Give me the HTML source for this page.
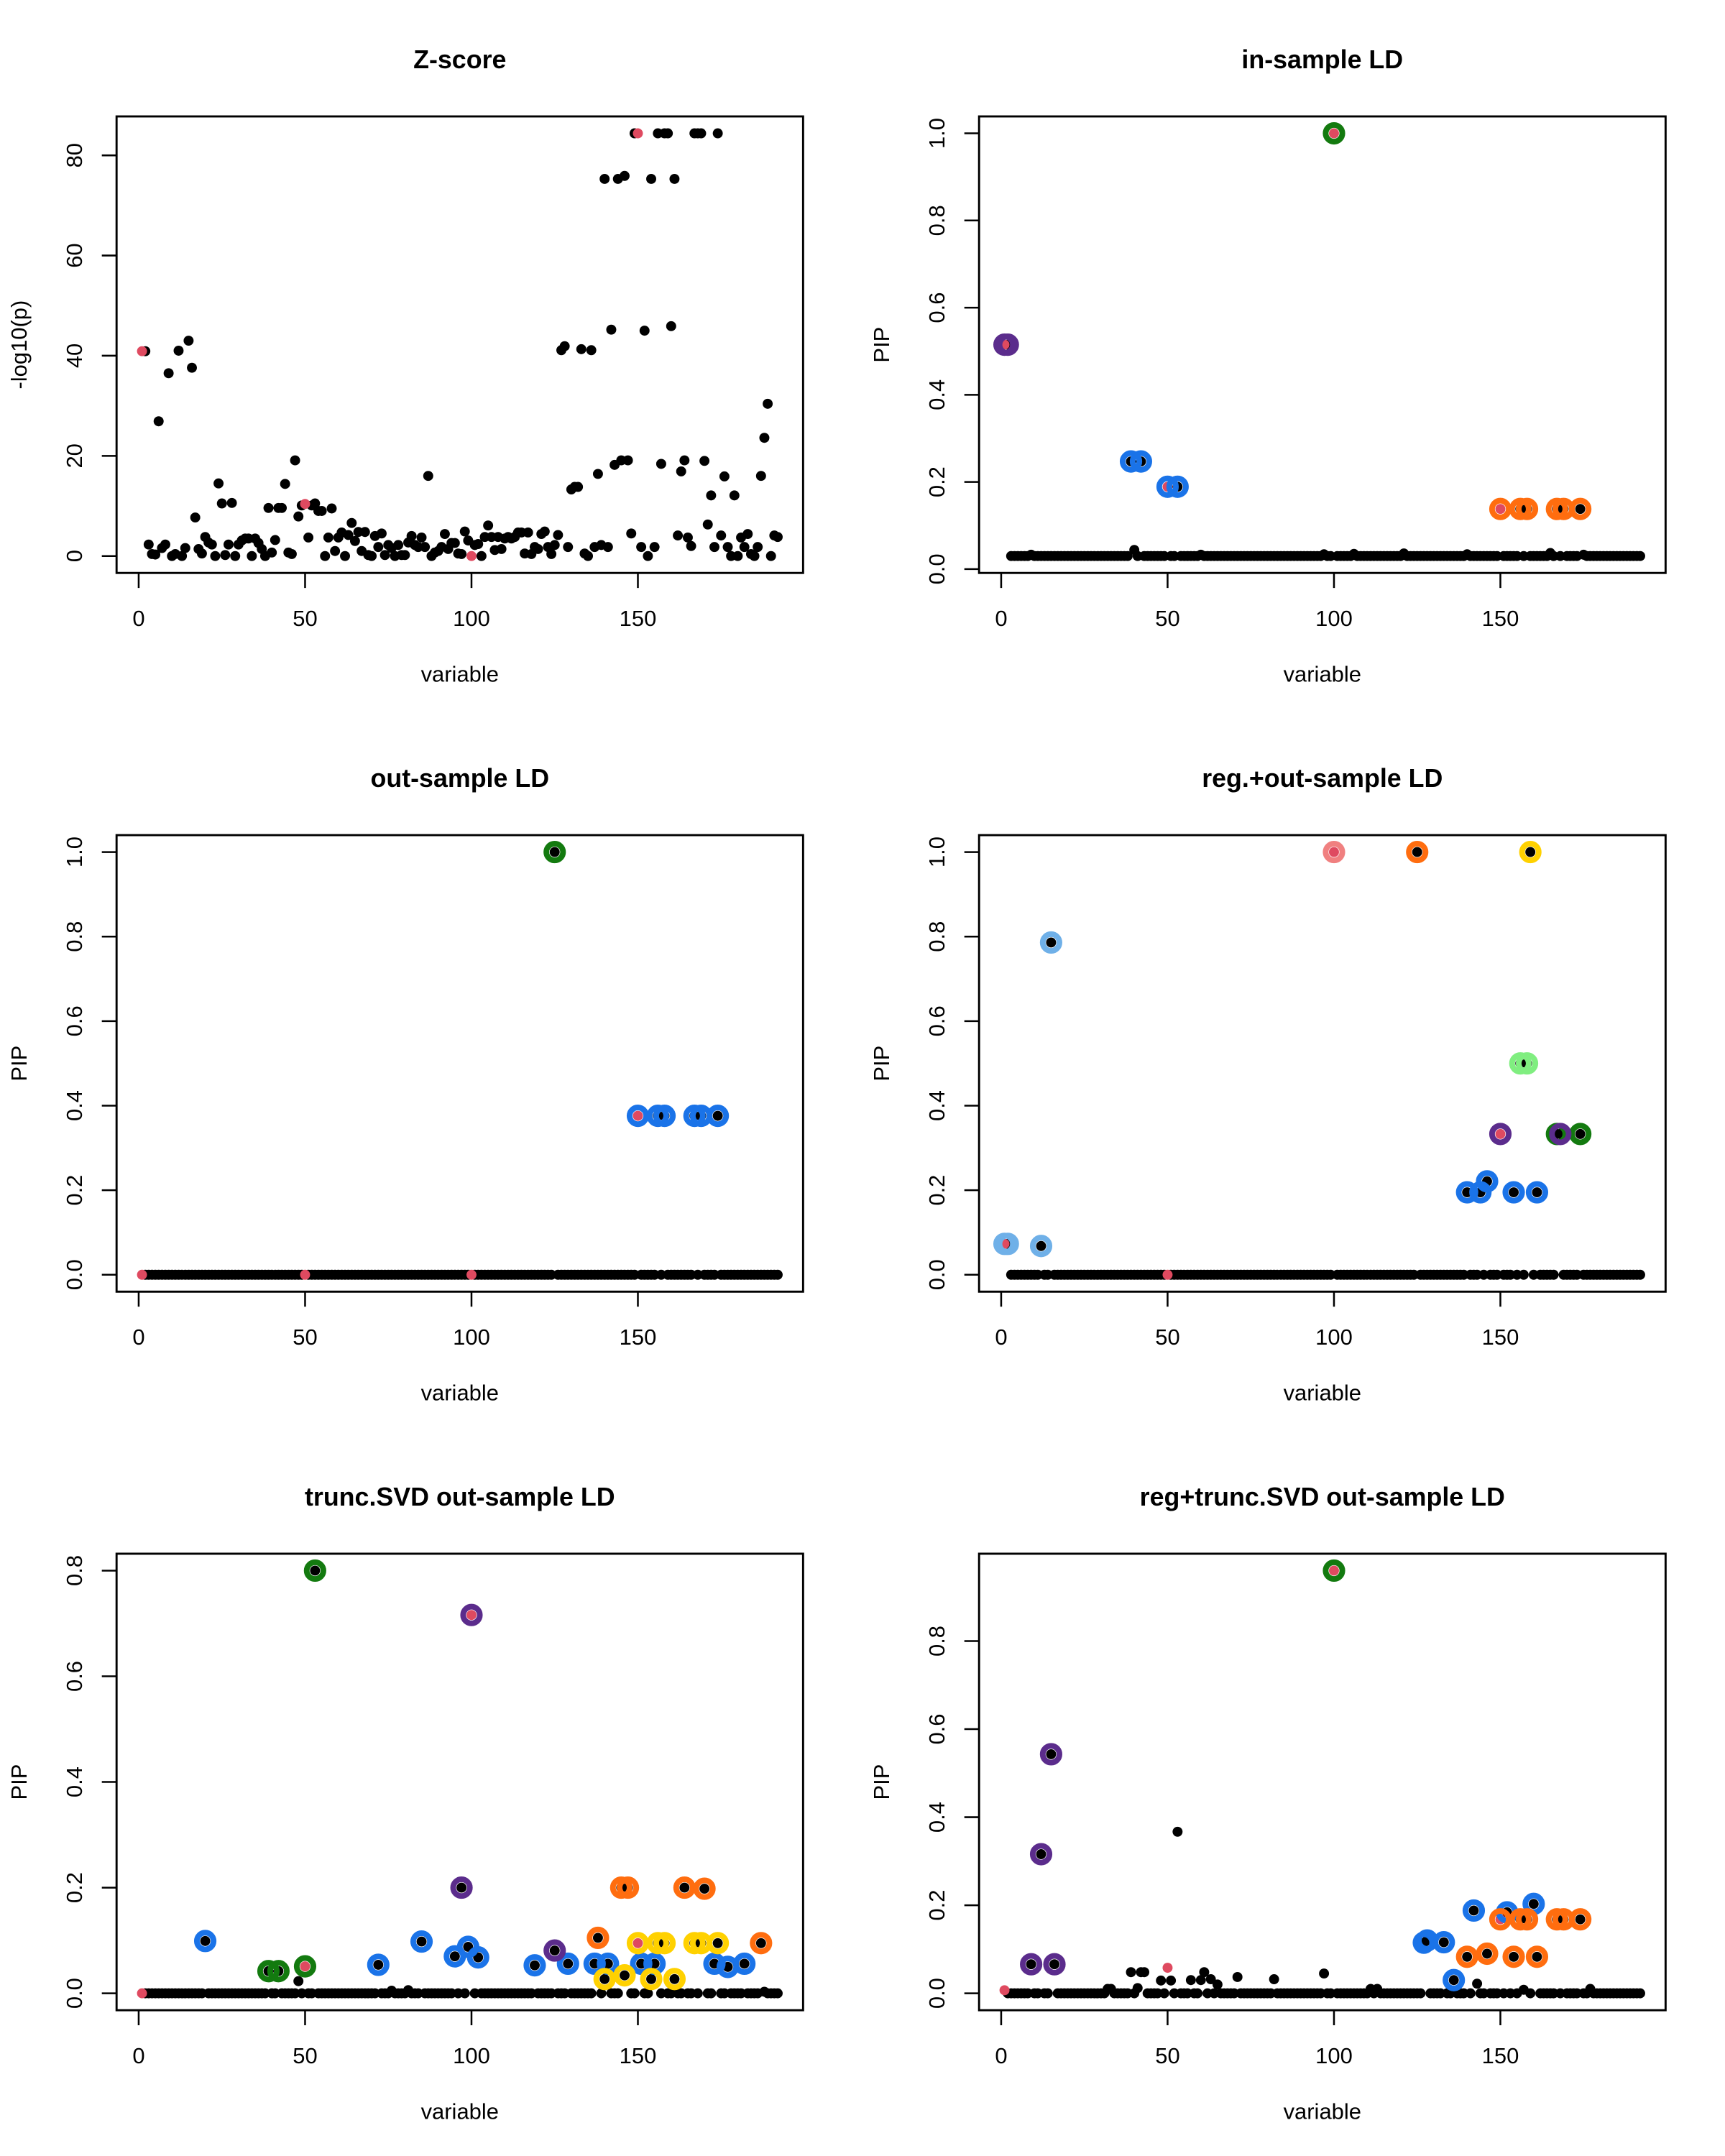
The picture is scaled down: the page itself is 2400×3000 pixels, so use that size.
<!DOCTYPE html>
<html><head><meta charset="utf-8">
<style>
html,body{margin:0;padding:0;background:#fff;}
svg{display:block;}
text{font-family:"Liberation Sans",Arial,sans-serif;fill:#000;}
</style></head>
<body>
<svg id="fig" width="2400" height="3000" viewBox="0 0 1240 1550" xmlns="http://www.w3.org/2000/svg"></svg>
<script>
// ---------- data ----------
const N = 192;
const redVars = [1, 50, 100, 150];
const zscore = [40.9,40.9,2.3,0.4,0.3,26.9,1.6,2.3,36.5,0,0.4,41,0,1.6,43,37.6,7.7,1.4,0.5,3.8,
2.7,2.3,0,14.5,10.5,0.2,2.3,10.6,0,2.3,3.1,3.5,3.5,0,3.5,2.6,1.4,0,9.6,0.7,
3.2,9.6,9.6,14.4,0.7,0.4,19.1,7.9,10.1,10.4,3.7,10.1,10.5,9,9,0,3.7,9.5,1,3.7,
4.7,0,4.2,6.6,3,4.8,1,4.8,0.2,0,4,1.8,4.5,0.2,2.2,1.6,0,2.2,0.2,0.2,
2.7,4,2.2,1.8,3.7,1.8,16,0,0.7,1,1.8,4.4,1.4,2.6,2.6,0.5,0.4,4.9,3.1,0,
2.2,2.4,0,3.8,6.1,3.8,1.2,3.8,1.4,3.5,3.8,3.5,3.8,4.7,4.7,0.5,4.7,0.4,1.8,1.4,
4.4,4.9,1.8,0.4,2.2,4.2,41.1,41.9,1.8,13.3,13.8,13.8,41.3,0.5,0,41.1,1.8,16.4,2.2,75.3,
1.8,45.2,18.2,75.3,19.1,75.9,19.1,4.5,84.4,84.4,1.8,45,0,75.3,1.8,84.4,18.4,84.4,84.4,45.9,
75.3,4.1,16.9,19.1,3.7,2,84.4,84.4,84.4,19,6.3,12.1,1.8,84.4,4.1,15.9,1.8,0,12.1,0,
3.7,1.8,4.4,0.4,0,1.8,16,23.6,30.4,0,4.1,3.8];

// in-sample LD
const inBase = 0.03;
const inVars = [1,2,39,42,50,53,100,150,156,158,167,169,174,40,165,9,60,97,106,121,140,175];
const inVals = [0.515,0.515,0.247,0.247,0.189,0.189,1.0,0.138,0.138,0.138,0.138,0.138,0.138,0.044,0.037,0.033,0.033,0.034,0.035,0.036,0.034,0.033];
const inSets = [[1,2],[39,42,50,53],[100],[150,156,158,167,169,174]];
const inCols = ["#5B2C8C","#1A73E8","#137A0F","#FF6D0F"];

// out-sample LD
const outBase = 0;
const outVars = [125,150,156,158,167,169,174];
const outVals = [1.0,0.376,0.376,0.376,0.376,0.376,0.376];
const outSets = [[125],[150,156,158,167,169,174]];
const outCols = ["#137A0F","#1A73E8"];

// reg.+out-sample LD
const regBase = 0;
const regVars = [1,2,12,15,100,125,159,156,158,150,168,167,174,140,144,146,154,161];
const regVals = [0.073,0.073,0.068,0.786,1.0,1.0,1.0,0.5,0.5,0.333,0.333,0.333,0.333,0.195,0.195,0.221,0.195,0.195];
const regSets = [[1,2,12,15],[100],[125],[159],[156,158],[167,174],[150,168],[140,144,146,154,161]];
const regCols = ["#6FB0E8","#F08080","#FF6D0F","#FFD100","#80EE80","#137A0F","#5B2C8C","#1A73E8"];

// trunc.SVD out-sample LD
const tsBase = 0;
const tsVars = [20,39,42,50,53,72,85,95,99,102,97,100,119,125,129,138,137,141,140,146,154,161,145,147,164,170,187,150,156,158,167,169,174,151,155,173,177,182,48,76,81,188];
const tsVals = [0.099,0.042,0.042,0.051,0.80,0.054,0.098,0.070,0.088,0.068,0.20,0.716,0.053,0.081,0.056,0.105,0.056,0.056,0.027,0.034,0.027,0.027,0.20,0.20,0.20,0.198,0.095,0.095,0.095,0.095,0.095,0.095,0.095,0.056,0.056,0.056,0.050,0.056,0.023,0.005,0.006,0.003];
const tsSets = [[20,72,85,95,99,102,119,129,137,141,151,155,173,177,182],[39,42,50,53],[97,100,125],[138,145,147,164,170,187],[140,146,154,161,150,156,158,167,169,174]];
const tsCols = ["#1A73E8","#137A0F","#5B2C8C","#FF6D0F","#FFD100"];

// reg+trunc.SVD out-sample LD
const rtBase = 0;
const rtVars = [9,16,12,15,100,127,128,133,136,142,152,160,150,156,158,167,169,174,140,146,154,161,53,39,42,43,48,51,50,57,60,61,63,65,71,82,97,143,157,41,32,33,111,113,177,1];
const rtVals = [0.066,0.066,0.316,0.543,0.96,0.115,0.12,0.116,0.03,0.188,0.184,0.203,0.168,0.168,0.168,0.168,0.168,0.168,0.083,0.09,0.083,0.083,0.367,0.048,0.048,0.048,0.029,0.029,0.058,0.03,0.03,0.048,0.032,0.02,0.037,0.032,0.045,0.022,0.008,0.012,0.01,0.01,0.01,0.01,0.01,0.007];
const rtSets = [[9,12,15,16],[100],[127,128,133,136,142,152,160],[140,146,154,161,150,156,158,167,169,174]];
const rtCols = ["#5B2C8C","#137A0F","#1A73E8","#FF6D0F"];

const zTicks = [0,20,40,60,80];
const pipTicks = [0,0.2,0.4,0.6,0.8,1.0];
const pipTicks8 = [0,0.2,0.4,0.6,0.8];
const xTicks = [0,50,100,150];

// ---------- drawing ----------
const svg = document.getElementById('fig');
const NS = 'http://www.w3.org/2000/svg';
function mk(tag, attrs, parent){
  const e = document.createElementNS(NS, tag);
  for (const k in attrs) e.setAttribute(k, attrs[k]);
  parent.appendChild(e);
  return e;
}
function expand(base, vars, vals){
  const a = new Array(N).fill(base);
  vars.forEach((v,i)=>{ a[v-1] = vals[i]; });
  return a;
}
const BX0=83.8, BX1=577.3, BY0=83.7, BY1=411.9;

function panel(ox, oy, name, title, ylab, values, yTicks, tickFmt, sets, cols){
  const g = mk('g', {}, svg);
  
  
  const xlo = 1 - 0.04*(N-1), xhi = N + 0.04*(N-1);
  const ymin = Math.min(...values), ymax = Math.max(...values);
  const r = ymax - ymin;
  const ylo = ymin - 0.04*r, yhi = ymax + 0.04*r;
  const xs = v => ox + BX0 + (v - xlo)/(xhi - xlo)*(BX1 - BX0);
  const ys = v => oy + BY1 - (v - ylo)/(yhi - ylo)*(BY1 - BY0);

  const t = mk('text', {x: ox+(BX0+BX1)/2, y: oy+49, 'text-anchor':'middle', 'font-size':18.5, 'font-weight':'bold'}, g);
  t.textContent = title;
  
  

  // points: black first, red (true effects) on top
  const pts = mk('g', {}, g);
  
  
  const order = [];
  values.forEach((v,i)=>{ if (!redVars.includes(i+1)) order.push(i); });
  values.forEach((v,i)=>{ if (redVars.includes(i+1)) order.push(i); });
  order.forEach(i=>{
    const varn = i+1;
    const c = mk('circle', {cx: xs(varn), cy: ys(values[i]), r: 3.6, fill: redVars.includes(varn) ? '#DF4A60' : '#000'}, pts);
    
    
  });
  // credible-set rings
  sets.forEach((s, k)=>{
    const sg = mk('g', {}, g);
    
    
    s.forEach(varn=>{
      const c = mk('circle', {cx: xs(varn), cy: ys(values[varn-1]), r: 6.0, fill: 'none', stroke: cols[k], 'stroke-width': 4.1}, sg);
      
      
    });
  });

  // box
  const b = mk('rect', {x: ox+BX0, y: oy+BY0, width: BX1-BX0, height: BY1-BY0, fill:'none', stroke:'#000', 'stroke-width':1.5}, g);
  
  

  // x axis
  const xa = mk('g', {}, g);
  
  
  xTicks.forEach(tv=>{
    mk('line', {x1: xs(tv), x2: xs(tv), y1: oy+BY1, y2: oy+BY1+10.8, stroke:'#000', 'stroke-width':1.3}, xa);
    const tl = mk('text', {x: xs(tv), y: oy+450, 'text-anchor':'middle', 'font-size':16}, xa);
    tl.textContent = tv;
    
    
  });
  const xl = mk('text', {x: ox+(BX0+BX1)/2, y: oy+490, 'text-anchor':'middle', 'font-size':16}, g);
  xl.textContent = 'variable';
  
  

  // y axis
  const ya = mk('g', {}, g);
  
  
  yTicks.forEach(tv=>{
    const y = ys(tv);
    mk('line', {x1: ox+BX0-10.6, x2: ox+BX0, y1: y, y2: y, stroke:'#000', 'stroke-width':1.3}, ya);
    const tl = mk('text', {x: 0, y: 0, 'text-anchor':'middle', 'font-size':16, transform: 'translate(' + (ox+59) + ',' + y + ') rotate(-90)'}, ya);
    tl.textContent = tickFmt(tv);
    
    
  });
  const yl = mk('text', {x:0, y:0, 'text-anchor':'middle', 'font-size':16, transform: 'translate(' + (ox+19) + ',' + (oy+(BY0+BY1)/2) + ') rotate(-90)'}, g);
  yl.textContent = ylab;
  
  
}

const f0 = v => String(v);
const f1 = v => v.toFixed(1);
const R2 = 516.7, R3 = 1033.3, C2 = 620;
panel(0, 0, 'z-score', 'Z-score', '-log10(p)', zscore, zTicks, f0, [], []);
panel(C2, 0, 'in-sample-ld', 'in-sample LD', 'PIP', expand(inBase, inVars, inVals), pipTicks, f1, inSets, inCols);
panel(0, R2, 'out-sample-ld', 'out-sample LD', 'PIP', expand(outBase, outVars, outVals), pipTicks, f1, outSets, outCols);
panel(C2, R2, 'reg-out-sample-ld', 'reg.+out-sample LD', 'PIP', expand(regBase, regVars, regVals), pipTicks, f1, regSets, regCols);
panel(0, R3, 'trunc-svd-ld', 'trunc.SVD out-sample LD', 'PIP', expand(tsBase, tsVars, tsVals), pipTicks8, f1, tsSets, tsCols);
panel(C2, R3, 'reg-trunc-svd-ld', 'reg+trunc.SVD out-sample LD', 'PIP', expand(rtBase, rtVars, rtVals), pipTicks8, f1, rtSets, rtCols);
</script>
</body></html>
